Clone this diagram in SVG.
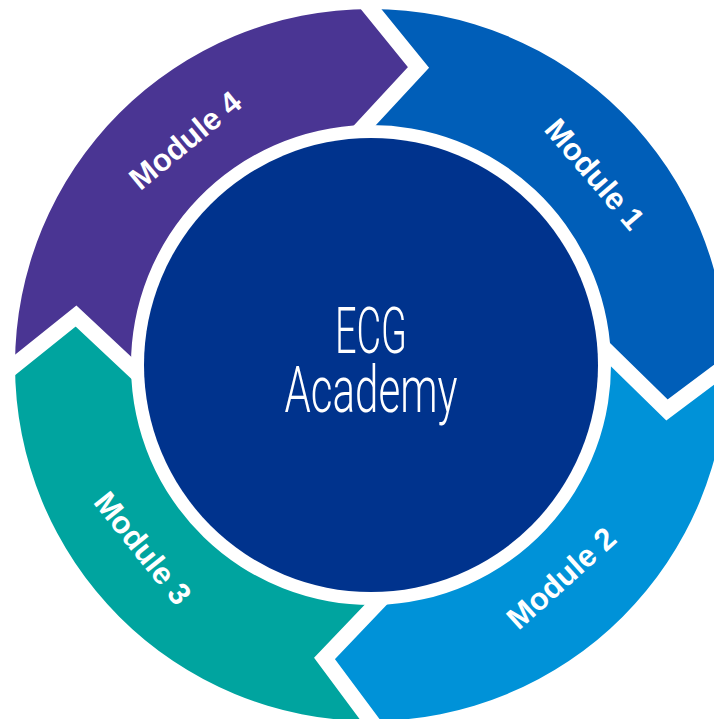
<svg xmlns="http://www.w3.org/2000/svg" width="714" height="719" viewBox="0 0 714 719">
<style>
.lbl{font-family:"Liberation Sans",Arial,sans-serif;font-weight:bold;font-size:31px;fill:#ffffff;text-anchor:middle}
.ctr{font-family:Roboto,"Open Sans","DejaVu Sans",sans-serif;font-weight:300;font-size:64px;fill:#ffffff;text-anchor:middle}
.gap{fill:none;stroke:#ffffff;stroke-width:16;stroke-linejoin:miter;stroke-miterlimit:10}
</style>
<rect width="714" height="719" fill="#ffffff"/>
<g id="module1">
<path d="M371,9 A356,356 0 0 1 727,365 L667,410 L610.8,355 A240,240 0 0 0 365.1,125.1 L418.5,67.5 Z" fill="#005eb8"/>
<text class="lbl" transform="translate(595,174) rotate(49.5)" x="0" y="11">Module 1</text>
</g>
<g id="module2">
<path d="M727,365 A356,356 0 0 1 371,721 L324.5,658.5 L375.6,605 A240,240 0 0 0 610.8,355 L667,410 Z" fill="#0092d8"/>
<text class="lbl" transform="translate(561,578) rotate(-42)" x="0" y="11">Module 2</text>
</g>
<g id="module3">
<path d="M371,721 A356,356 0 0 1 15,365 L76,316 L131,367.5 A240,240 0 0 0 375.6,605 L324.5,658.5 Z" fill="#00a49f"/>
<text class="lbl" transform="translate(143,548) rotate(51.3)" x="0" y="11">Module 3</text>
</g>
<g id="module4">
<path d="M15,365 A356,356 0 0 1 371,9 L418.5,67.5 L365.1,125.1 A240,240 0 0 0 131,367.5 L76,316 Z" fill="#4a3593"/>
<text class="lbl" transform="translate(185,140) rotate(-39.6)" x="0" y="11">Module 4</text>
</g>
<g id="connectors">
<polyline class="gap" points="352,-14.4 418.5,67.5 343.7,148.1"/>
<polyline class="gap" points="751,347 667,410 588.3,333"/>
<polyline class="gap" points="389.6,746 324.5,658.5 396,583.6"/>
<polyline class="gap" points="-9.4,384.6 76,316 153,388.1"/>
</g>
<g id="center">
<circle cx="371" cy="365" r="227" fill="#00338d"/>
<text class="ctr"><tspan x="371" y="353" textLength="72" lengthAdjust="spacingAndGlyphs">ECG</tspan><tspan x="371" y="412" textLength="173" lengthAdjust="spacingAndGlyphs">Academy</tspan></text>
</g>
</svg>
